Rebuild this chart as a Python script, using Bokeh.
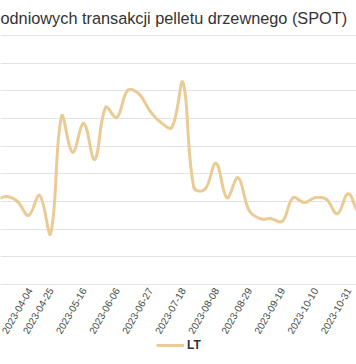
import math
import numpy as np
import pandas as pd
from bokeh.plotting import figure
from bokeh.models import Range1d, FixedTicker, Legend, LegendItem, DatetimeTickFormatter
from bokeh.embed import file_html
from bokeh.resources import INLINE

# ---- data (y-axis labels are outside the visible crop) ----
title_text = "odniowych transakcji pelletu drzewnego (SPOT)"
series_name = "LT"
dates = ["2023-03-21", "2023-03-28", "2023-04-04", "2023-04-11", "2023-04-18",
         "2023-04-25", "2023-05-02", "2023-05-09", "2023-05-16", "2023-05-23",
         "2023-05-30", "2023-06-06", "2023-06-13", "2023-06-20", "2023-06-27",
         "2023-07-04", "2023-07-11", "2023-07-18", "2023-07-25", "2023-08-01",
         "2023-08-08", "2023-08-15", "2023-08-22", "2023-08-29", "2023-09-05",
         "2023-09-12", "2023-09-19", "2023-09-26", "2023-10-03", "2023-10-10",
         "2023-10-17", "2023-10-24", "2023-10-31", "2023-11-07", "2023-11-14"]
values_lt = [152, 159, 150, 125, 161, 92, 304, 239, 291, 226,
             320, 302, 351, 345, 314, 293, 284, 365, 175, 172,
             219, 157, 193, 134, 119, 119, 114, 157, 148, 157,
             154, 128, 164, 128, 125]
tick_dates = ["2023-04-04", "2023-04-25", "2023-05-16", "2023-06-06", "2023-06-27",
              "2023-07-18", "2023-08-08", "2023-08-29", "2023-09-19", "2023-10-10",
              "2023-10-31", "2023-11-21"]
y_ticks = [0, 50, 100, 150, 200, 250, 300, 350, 400, 450]

# ---- styling / layout ----
LINE_COLOR = "#EACB95"
GRID_COLOR = "#E3E3E3"
FW = 356
PLOT_H = 249          # pixels between the 0 line and the top grid line
BELOW_H = 80          # room under the 0 line for tick labels and legend
TOP_PAD = 2           # headroom above the top grid line
FH = PLOT_H + BELOW_H + TOP_PAD
DAY = 86400000.0
span = y_ticks[-1] - y_ticks[0]
Y_BOTTOM = y_ticks[0] - span * BELOW_H / PLOT_H
Y_TOP = y_ticks[-1] + span * TOP_PAD / PLOT_H

def to_ms(s):
    return (pd.to_datetime(s) - pd.Timestamp("1970-01-01")).total_seconds() * 1000.0

x = np.array([to_ms(d) for d in dates])
y = np.array(values_lt, dtype=float)
t0 = to_ms(tick_dates[0])
x_start = t0 - 10.8 * DAY
x_end = t0 + 215.2 * DAY

p = figure(frame_width=FW, frame_height=FH, output_backend="svg", toolbar_location=None,
           x_axis_type="datetime",
           x_range=Range1d(x_start, x_end), y_range=Range1d(Y_BOTTOM, Y_TOP),
           min_border_left=0, min_border_right=0, min_border_top=6, min_border_bottom=0)
p.outline_line_color = None
p.background_fill_color = "white"
p.border_fill_color = "white"

# title
p.title.text = title_text
p.title.text_font = "Liberation Sans"
p.title.text_font_size = "16.3px"
p.title.text_font_style = "normal"
p.title.text_color = "#333333"
p.title.align = "left"
p.title.offset = 0
p.title.standoff = 13

# axes / grid
p.yaxis.visible = False
p.ygrid.ticker = FixedTicker(ticks=y_ticks)
p.ygrid.grid_line_color = GRID_COLOR
p.ygrid.grid_line_width = 1
p.xgrid.visible = False

xa = p.xaxis[0]
xa.fixed_location = y_ticks[0]
xa.ticker = FixedTicker(ticks=[to_ms(d) for d in tick_dates])
fmt = "%Y-%m-%d"
xa.formatter = DatetimeTickFormatter(days=fmt, months=fmt, years=fmt, hours=fmt,
                                     hourmin=fmt, minutes=fmt, minsec=fmt, seconds=fmt,
                                     milliseconds=fmt, microseconds=fmt)
xa.major_label_orientation = math.pi / 3
xa.major_label_text_font = "Liberation Sans"
xa.major_label_text_font_size = "10px"
xa.major_label_text_color = "#3E4A46"
xa.axis_line_color = GRID_COLOR
xa.major_tick_line_color = None
xa.minor_tick_line_color = None
xa.major_tick_out = 0
xa.major_tick_in = 0
xa.minor_tick_out = 0
xa.minor_tick_in = 0
xa.major_label_standoff = 4

# smooth curve (Chart.js-like spline through the data points)
sx = FW / (x_end - x_start)
sy = PLOT_H / span
tension = 0.4
n = len(y)
pvx = np.zeros(n); pvy = np.zeros(n); nxx = np.zeros(n); nxy = np.zeros(n)
for i in range(n):
    i0 = max(i - 1, 0)
    i2 = min(i + 1, n - 1)
    d01 = math.hypot((x[i] - x[i0]) * sx, (y[i] - y[i0]) * sy)
    d12 = math.hypot((x[i2] - x[i]) * sx, (y[i2] - y[i]) * sy)
    tot = d01 + d12
    s01 = d01 / tot if tot else 0.0
    s12 = d12 / tot if tot else 0.0
    fa = tension * s01
    fb = tension * s12
    pvx[i] = x[i] - fa * (x[i2] - x[i0]); pvy[i] = y[i] - fa * (y[i2] - y[i0])
    nxx[i] = x[i] + fb * (x[i2] - x[i0]); nxy[i] = y[i] + fb * (y[i2] - y[i0])

r = p.bezier(x0=x[:-1], y0=y[:-1], x1=x[1:], y1=y[1:],
             cx0=nxx[:-1], cy0=nxy[:-1], cx1=pvx[1:], cy1=pvy[1:],
             line_color=LINE_COLOR, line_width=3, line_cap="round")
leg_r = p.line(x=[x[0]], y=[y[0]], line_color=LINE_COLOR, line_width=3, line_alpha=1)

legend = Legend(items=[LegendItem(label=series_name, renderers=[leg_r])],
                location=(156, 12), orientation="horizontal")
legend.border_line_color = None
legend.background_fill_color = None
legend.label_text_font = "Liberation Sans"
legend.label_text_font_size = "12px"
legend.label_text_font_style = "bold"
legend.label_text_color = "#333333"
legend.glyph_width = 28
legend.glyph_height = 12
legend.label_height = 12
legend.label_standoff = 3
legend.padding = 1
legend.margin = 0
p.add_layout(legend, "center")

open("out.html", "w").write(file_html(p, INLINE))
